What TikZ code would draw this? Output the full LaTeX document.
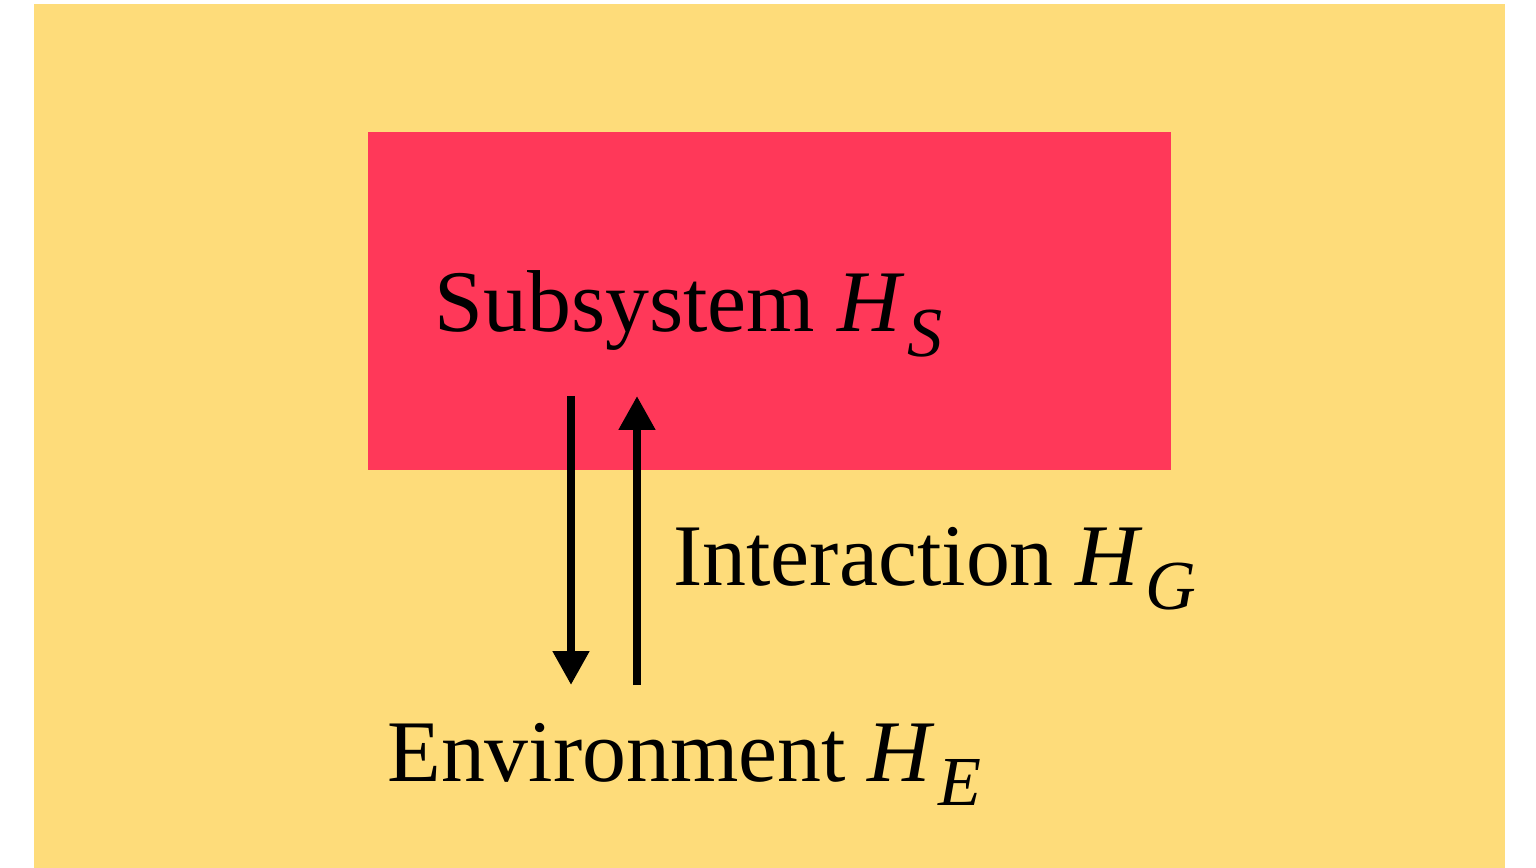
\documentclass[tikz,border=0pt]{standalone}
\usepackage{fontspec}
\setmainfont{Liberation Serif}
\usetikzlibrary{arrows.meta}
\definecolor{bgyellow}{RGB}{254,220,122}
\definecolor{sysred}{RGB}{255,56,89}
\tikzset{
  lbl/.style={inner sep=0pt, anchor=base west, font=\fontsize{50}{60}\selectfont},
  flow/.style={line width=0.16cm, -{Triangle[width=0.7cm,length=0.68cm]}}
}
\newcommand{\hsub}[1]{\textit{H}\kern1.5pt\raisebox{-0.5cm}{\fontsize{40}{46}\selectfont\itshape #1}}
\begin{document}
\begin{tikzpicture}[x=0.02cm,y=-0.02cm]
  \fill[white] (0,0) rectangle (1536,868);
  \useasboundingbox (0,0) rectangle (1536,868);
  \fill[bgyellow] (34,4) rectangle (1505,868);
  \fill[sysred] (368,132) rectangle (1171,470);
  \node[lbl] (sub) at (434,332) {Subsystem \hsub{S}};
  \node[lbl] (int) at (673,585) {Interaction \hsub{G}};
  \node[lbl] (env) at (387,781) {Environment \hsub{E}};
  \coordinate (a1s) at (571,396);
  \coordinate (a1e) at (571,685);
  \coordinate (a2s) at (637,685);
  \coordinate (a2e) at (637,396);
  \draw[flow] (a1s) -- (a1e);
  \draw[flow] (a2s) -- (a2e);
\end{tikzpicture}
\end{document}
